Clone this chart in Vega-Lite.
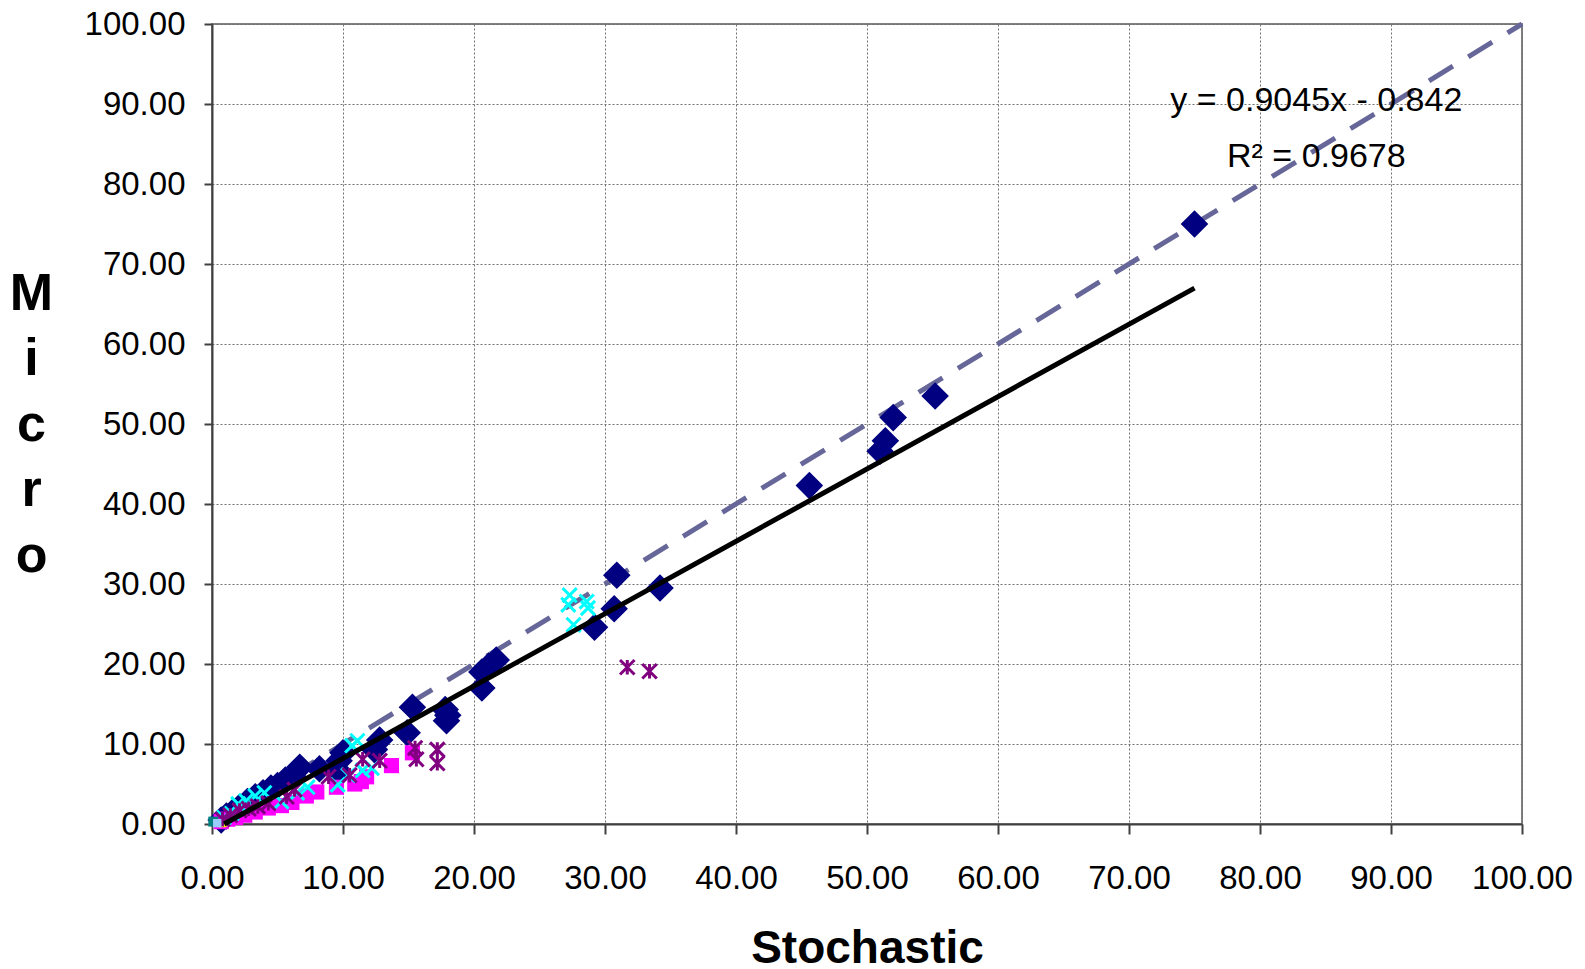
{
  "$schema": "https://vega.github.io/schema/vega-lite/v6.json",
  "width": 1310,
  "height": 800,
  "autosize": {"type": "none"},
  "padding": {"left": 212, "top": 24, "right": 63, "bottom": 145},
  "background": "white",
  "config": {
    "view": {"stroke": "#808080", "strokeWidth": 2, "fill": "white"},
    "font": "Liberation Sans"
  },
  "datasets": {
    "diag": [{"x": 0, "y": 0}, {"x": 100, "y": 100}],
    "trend": [{"x": 0.93, "y": 0.0}, {"x": 75.0, "y": 66.99}],
    "eq": [
      {"x": 84.3, "y": 90.4, "label": "y = 0.9045x - 0.842"},
      {"x": 84.3, "y": 83.4, "label": "R² = 0.9678"}
    ],
    "navy": [
      {"x": 75.0, "y": 75.0}, {"x": 55.2, "y": 53.5}, {"x": 52.0, "y": 50.8},
      {"x": 51.4, "y": 47.9}, {"x": 51.0, "y": 46.6}, {"x": 45.6, "y": 42.3},
      {"x": 34.2, "y": 29.5}, {"x": 30.9, "y": 31.1}, {"x": 30.7, "y": 26.9},
      {"x": 29.2, "y": 24.6}, {"x": 21.7, "y": 20.5}, {"x": 21.1, "y": 19.7},
      {"x": 20.6, "y": 19.0}, {"x": 20.6, "y": 17.0}, {"x": 17.8, "y": 14.3},
      {"x": 17.9, "y": 12.9}, {"x": 18.0, "y": 13.6}, {"x": 15.3, "y": 14.6},
      {"x": 14.9, "y": 11.4}, {"x": 12.8, "y": 10.5}, {"x": 12.4, "y": 9.3},
      {"x": 10.0, "y": 8.9}, {"x": 9.7, "y": 7.9}, {"x": 9.8, "y": 6.4},
      {"x": 8.2, "y": 6.9}, {"x": 6.7, "y": 7.1}, {"x": 6.2, "y": 5.9},
      {"x": 5.6, "y": 5.5}, {"x": 5.0, "y": 4.8}, {"x": 4.5, "y": 4.5},
      {"x": 3.9, "y": 3.9}, {"x": 3.3, "y": 3.4}, {"x": 2.7, "y": 2.8},
      {"x": 2.1, "y": 2.1}, {"x": 1.6, "y": 1.5}, {"x": 1.1, "y": 1.0},
      {"x": 0.7, "y": 0.5}
    ],
    "magenta": [
      {"x": 15.3, "y": 8.9}, {"x": 13.7, "y": 7.3}, {"x": 11.8, "y": 5.9},
      {"x": 11.4, "y": 5.3}, {"x": 10.9, "y": 5.0}, {"x": 9.5, "y": 4.6},
      {"x": 8.0, "y": 4.0}, {"x": 7.2, "y": 3.5}, {"x": 6.1, "y": 2.7},
      {"x": 5.3, "y": 2.3}, {"x": 4.3, "y": 2.0}, {"x": 3.3, "y": 1.5},
      {"x": 2.5, "y": 1.1}, {"x": 1.8, "y": 0.8}, {"x": 1.2, "y": 0.6},
      {"x": 0.7, "y": 0.3}
    ],
    "yellow": [
      {"x": 0.8, "y": 0.0}, {"x": 1.1, "y": 0.1}
    ],
    "cyan": [
      {"x": 27.3, "y": 28.6}, {"x": 27.2, "y": 27.4}, {"x": 28.6, "y": 27.8},
      {"x": 28.7, "y": 27.0}, {"x": 27.6, "y": 24.9}, {"x": 11.1, "y": 10.4},
      {"x": 10.7, "y": 9.8}, {"x": 12.2, "y": 7.0}, {"x": 11.5, "y": 6.7},
      {"x": 10.4, "y": 6.1}, {"x": 9.6, "y": 4.9}, {"x": 7.3, "y": 4.6},
      {"x": 6.5, "y": 3.9}, {"x": 5.3, "y": 2.8}, {"x": 4.0, "y": 3.9},
      {"x": 3.3, "y": 3.5}, {"x": 2.6, "y": 2.9}, {"x": 2.0, "y": 2.5},
      {"x": 1.5, "y": 1.3}, {"x": 0.9, "y": 0.8}
    ],
    "purple": [
      {"x": 31.7, "y": 19.6}, {"x": 33.4, "y": 19.1}, {"x": 15.5, "y": 9.5},
      {"x": 15.6, "y": 8.1}, {"x": 17.2, "y": 9.3}, {"x": 17.2, "y": 7.6},
      {"x": 12.8, "y": 7.9}, {"x": 11.5, "y": 8.1}, {"x": 10.5, "y": 6.1},
      {"x": 8.9, "y": 5.9}, {"x": 6.3, "y": 4.3}, {"x": 5.7, "y": 3.4},
      {"x": 4.3, "y": 2.6}, {"x": 3.5, "y": 2.2}, {"x": 2.8, "y": 1.9},
      {"x": 2.1, "y": 1.7}, {"x": 1.4, "y": 1.1}, {"x": 0.8, "y": 0.6}
    ],
    "teal": [{"x": 0.1, "y": 0.3}],
    "lightblue": [{"x": 0.4, "y": 0.1}]
  },
  "encoding": {
    "x": {
      "field": "x", "type": "quantitative",
      "scale": {"domain": [0, 100], "nice": false, "zero": false},
      "axis": {
        "values": [0, 10, 20, 30, 40, 50, 60, 70, 80, 90, 100],
        "format": ".2f",
        "labelFont": "Liberation Sans", "labelFontSize": 33, "labelColor": "black",
        "labelPadding": 28, "labelFlush": false, "labelOverlap": false,
        "tickSize": 10, "tickColor": "#404040", "tickWidth": 2,
        "domainColor": "#404040", "domainWidth": 2,
        "grid": true, "gridColor": "#707070", "gridDash": [2, 2], "gridWidth": 1,
        "title": "Stochastic",
        "titleFont": "Liberation Sans", "titleFontSize": 46, "titleFontWeight": "bold",
        "titleColor": "black", "titleAlign": "center", "titleBaseline": "alphabetic",
        "titleX": 655, "titleY": 138
      }
    },
    "y": {
      "field": "y", "type": "quantitative",
      "scale": {"domain": [0, 100], "nice": false, "zero": false},
      "axis": {
        "values": [0, 10, 20, 30, 40, 50, 60, 70, 80, 90, 100],
        "format": ".2f",
        "labelFont": "Liberation Sans", "labelFontSize": 33, "labelColor": "black",
        "labelPadding": 19, "labelFlush": false, "labelOverlap": false,
        "tickSize": 8, "tickColor": "#404040", "tickWidth": 2,
        "domainColor": "#404040", "domainWidth": 2,
        "grid": true, "gridColor": "#707070", "gridDash": [2, 2], "gridWidth": 1,
        "title": ["M", "i", "c", "r", "o"],
        "titleFont": "Liberation Sans", "titleFontSize": 52, "titleFontWeight": "bold",
        "titleColor": "black", "titleAngle": 0, "titleAlign": "center", "titleBaseline": "middle",
        "titleX": -181, "titleY": 269, "titleLineHeight": 65.5
      }
    }
  },
  "layer": [
    {
      "data": {"name": "diag"},
      "mark": {"type": "line", "color": "#666699", "strokeWidth": 5, "strokeDash": [28, 18]}
    },
    {
      "data": {"name": "navy"},
      "mark": {"type": "point", "shape": "diamond", "filled": true, "color": "#000080", "size": 760, "opacity": 1}
    },
    {
      "data": {"name": "magenta"},
      "mark": {"type": "point", "shape": "square", "filled": true, "color": "#FF00FF", "size": 230, "opacity": 1}
    },
    {
      "data": {"name": "yellow"},
      "mark": {"type": "point", "shape": "triangle-up", "filled": true, "color": "#FFFF00", "size": 60, "opacity": 1}
    },
    {
      "data": {"name": "cyan"},
      "mark": {"type": "point", "shape": "M-1,-1L1,1M-1,1L1,-1", "filled": false, "color": "#00FFFF", "size": 200, "strokeWidth": 3, "opacity": 1}
    },
    {
      "data": {"name": "purple"},
      "mark": {"type": "point", "shape": "M-1,-1L1,1M-1,1L1,-1M0,-1L0,1", "filled": false, "color": "#800080", "size": 210, "strokeWidth": 3, "opacity": 1}
    },
    {
      "data": {"name": "teal"},
      "mark": {"type": "point", "shape": "square", "filled": true, "color": "#008080", "size": 100, "opacity": 1}
    },
    {
      "data": {"name": "lightblue"},
      "mark": {"type": "point", "shape": "square", "filled": true, "color": "#99CCFF", "size": 70, "opacity": 1}
    },
    {
      "data": {"name": "trend"},
      "mark": {"type": "line", "color": "black", "strokeWidth": 5}
    },
    {
      "data": {"name": "eq"},
      "mark": {"type": "text", "font": "Liberation Sans", "fontSize": 34, "color": "black", "align": "center", "baseline": "middle"},
      "encoding": {"text": {"field": "label"}}
    }
  ]
}
